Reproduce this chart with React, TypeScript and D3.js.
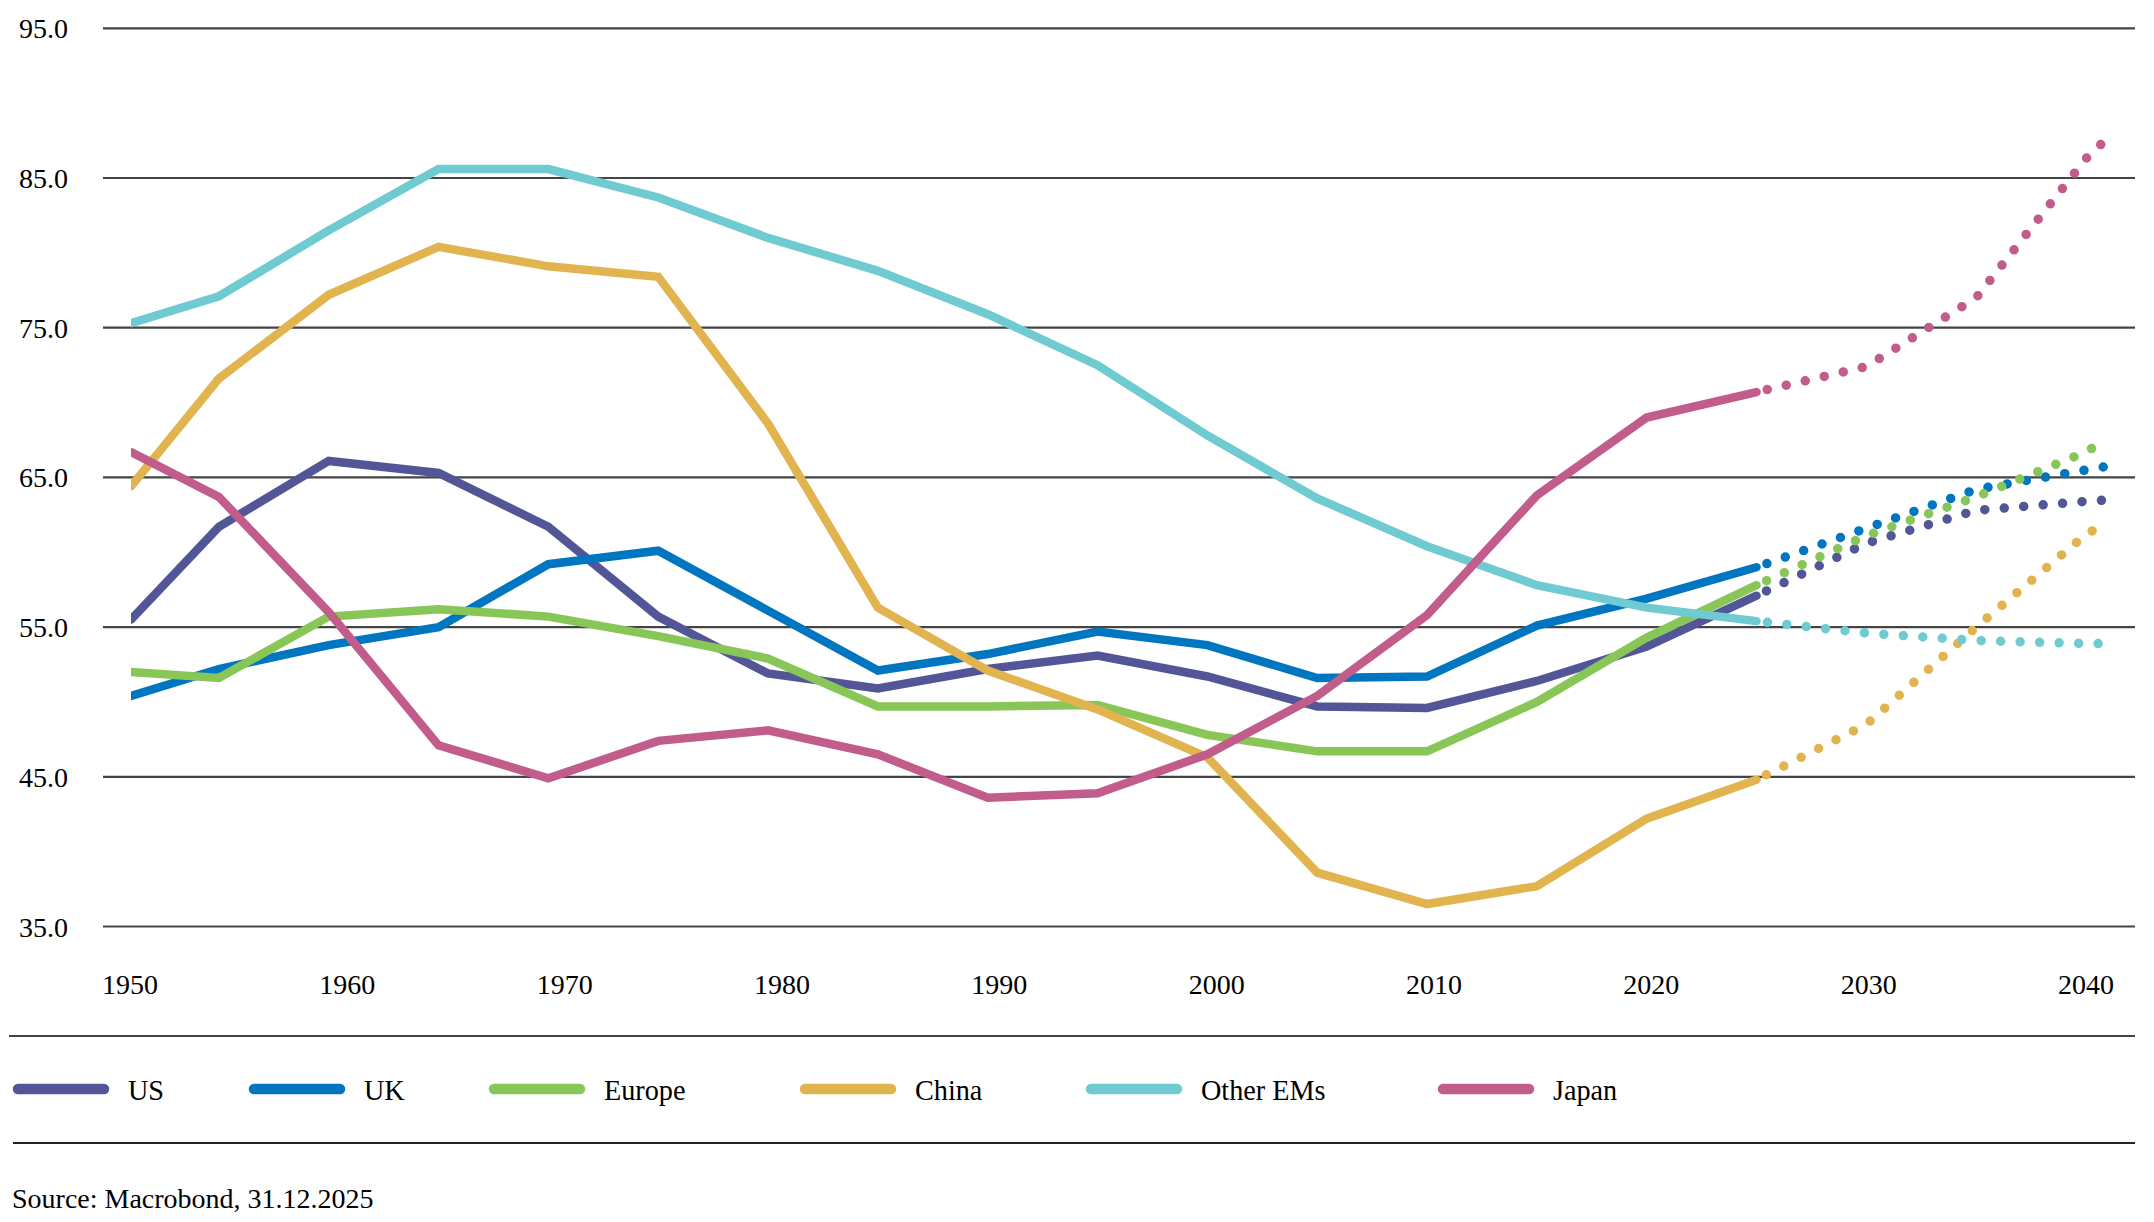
import { useEffect, useRef } from "react";
import * as d3 from "d3";

// 5-year history points (first observation is 1951) and projections
const years = [1951, 1955, 1960, 1965, 1970, 1975, 1980, 1985, 1990, 1995, 2000, 2005, 2010, 2015, 2020, 2025];
const forecastYears = [2025, 2030, 2035, 2040, 2041];

const usHist = [55.5, 61.7, 66.1, 65.3, 61.7, 55.7, 51.9, 50.9, 52.2, 53.1, 51.7, 49.7, 49.6, 51.4, 53.7, 57.1];
const ukHist = [50.4, 52.2, 53.8, 55.0, 59.2, 60.1, 56.1, 52.1, 53.2, 54.7, 53.8, 51.6, 51.7, 55.1, 56.9, 59.0];
const europeHist = [52.0, 51.6, 55.7, 56.2, 55.7, 54.4, 52.9, 49.7, 49.7, 49.8, 47.8, 46.7, 46.7, 50.0, 54.3, 57.8];
const chinaHist = [64.4, 71.6, 77.2, 80.4, 79.1, 78.4, 68.6, 56.3, 52.1, 49.5, 46.3, 38.6, 36.5, 37.7, 42.2, 44.8];
const otherEmHist = [75.3, 77.1, 81.5, 85.6, 85.6, 83.7, 81.0, 78.8, 75.9, 72.5, 67.8, 63.6, 60.4, 57.8, 56.3, 55.4];
const japanHist = [66.7, 63.7, 56.0, 47.1, 44.9, 47.4, 48.1, 46.5, 43.6, 43.9, 46.5, 50.4, 55.8, 63.8, 69.0, 70.7];

const usFcst = [57.1, 60.6, 62.8, 63.4, 63.5];
const ukFcst = [59.0, 61.6, 64.2, 65.5, 65.75];
const europeFcst = [57.8, 61.1, 63.7, 66.7, 67.6];
const chinaFcst = [44.8, 48.5, 55.0, 61.2, 62.0];
const otherEmFcst = [55.4, 54.6, 54.1, 53.9, 53.9];
const japanFcst = [70.7, 72.4, 77.0, 86.3, 87.7];

const seriesNames = ["US", "UK", "Europe", "China", "Other EMs", "Japan"];
const seriesColors = ["#525696", "#0076c0", "#89c658", "#e2b450", "#6fcbd1", "#c25c8a"];
const histValues = [usHist, ukHist, europeHist, chinaHist, otherEmHist, japanHist];
const fcstValues = [usFcst, ukFcst, europeFcst, chinaFcst, otherEmFcst, japanFcst];

const yTicks = [35, 45, 55, 65, 75, 85, 95];
const xTickYears = [1950, 1960, 1970, 1980, 1990, 2000, 2010, 2020, 2030, 2040];

const sourceText = "Source: Macrobond, 31.12.2025";

const W = 2154;
const H = 1222;
const FONT = "'Liberation Serif', 'Times New Roman', serif";

const Chart = () => {
  const svgRef = useRef<SVGSVGElement>(null);

  useEffect(() => {
    const svg = d3.select(svgRef.current);
    svg.selectAll("*").remove();

    const x = d3.scaleLinear().domain([1951, 2041]).range([131, 2108]);
    const xLabel = d3.scaleLinear().domain([1950, 2040]).range([130, 2086]);
    const y = d3.scaleLinear().domain([35, 95]).range([926.5, 28.3]);
    const gridLeft = 103;
    const gridRight = 2135;

    svg.append("rect").attr("width", W).attr("height", H).attr("fill", "#fff");

    svg
      .append("defs")
      .append("clipPath")
      .attr("id", "plot-clip")
      .append("rect")
      .attr("x", x(1951))
      .attr("y", 0)
      .attr("width", W)
      .attr("height", 1000);

    // gridlines + y labels
    const grid = svg.append("g");
    grid
      .selectAll("line")
      .data(yTicks)
      .join("line")
      .attr("x1", gridLeft)
      .attr("x2", gridRight)
      .attr("y1", (d) => y(d))
      .attr("y2", (d) => y(d))
      .attr("stroke", "#444")
      .attr("stroke-width", 2.2);

    grid
      .selectAll("text")
      .data(yTicks)
      .join("text")
      .attr("x", 19)
      .attr("y", (d) => y(d) + 10)
      .style("font-family", FONT)
      .style("font-size", "28px")
      .attr("fill", "#000")
      .text((d) => d.toFixed(1));

    // x labels
    svg
      .append("g")
      .selectAll("text")
      .data(xTickYears)
      .join("text")
      .attr("x", (d) => xLabel(d))
      .attr("y", 994)
      .attr("text-anchor", "middle")
      .style("font-family", FONT)
      .style("font-size", "28px")
      .attr("fill", "#000")
      .text((d) => String(d));

    const histLine = d3
      .line<number>()
      .x((_, i) => x(years[i]))
      .y((d) => y(d));
    const fcstLine = d3
      .line<number>()
      .x((_, i) => x(forecastYears[i]))
      .y((d) => y(d));

    const plot = svg.append("g").attr("clip-path", "url(#plot-clip)");

    seriesNames.forEach((_, s) => {
      plot
        .append("path")
        .datum(histValues[s])
        .attr("fill", "none")
        .attr("stroke", seriesColors[s])
        .attr("stroke-width", 8.5)
        .attr("stroke-linecap", "round")
        .attr("stroke-linejoin", "miter")
        .attr("d", histLine);
    });

    seriesNames.forEach((_, s) => {
      plot
        .append("path")
        .datum(fcstValues[s])
        .attr("fill", "none")
        .attr("stroke", seriesColors[s])
        .attr("stroke-width", 9.5)
        .attr("stroke-linecap", "round")
        .attr("stroke-dasharray", "0 19.5")
        .attr("stroke-dashoffset", 8.5)
        .attr("d", fcstLine);
    });

    // legend band
    svg
      .append("line")
      .attr("x1", 9)
      .attr("x2", gridRight)
      .attr("y1", 1036)
      .attr("y2", 1036)
      .attr("stroke", "#444")
      .attr("stroke-width", 2.2);
    svg
      .append("line")
      .attr("x1", 13)
      .attr("x2", gridRight)
      .attr("y1", 1143)
      .attr("y2", 1143)
      .attr("stroke", "#222")
      .attr("stroke-width", 2.2);

    const legendX = [13, 249, 489, 800, 1086, 1438];
    const legend = svg.append("g");
    seriesNames.forEach((name, s) => {
      const lx = legendX[s];
      legend
        .append("line")
        .attr("x1", lx + 5)
        .attr("x2", lx + 91)
        .attr("y1", 1089)
        .attr("y2", 1089)
        .attr("stroke", seriesColors[s])
        .attr("stroke-width", 10.5)
        .attr("stroke-linecap", "round");
      const t = legend
        .append("text")
        .attr("x", lx + 115)
        .attr("y", 1100)
        .style("font-family", FONT)
        .style("font-size", "30px")
        .attr("fill", "#000")
        .text(name);
      // the legend face is a little narrower than the plain serif
      const node = t.node();
      if (node) {
        const len = node.getComputedTextLength();
        t.attr("textLength", len * 0.94).attr("lengthAdjust", "spacingAndGlyphs");
      }
    });

    svg
      .append("text")
      .attr("x", 12)
      .attr("y", 1208)
      .style("font-family", FONT)
      .style("font-size", "28px")
      .attr("fill", "#000")
      .text(sourceText);
  }, []);

  return (
    <svg
      ref={svgRef}
      width={W}
      height={H}
      style={{ position: "absolute", left: 0, top: 0, display: "block" }}
    />
  );
};

export default function App() {
  return <Chart />;
}
